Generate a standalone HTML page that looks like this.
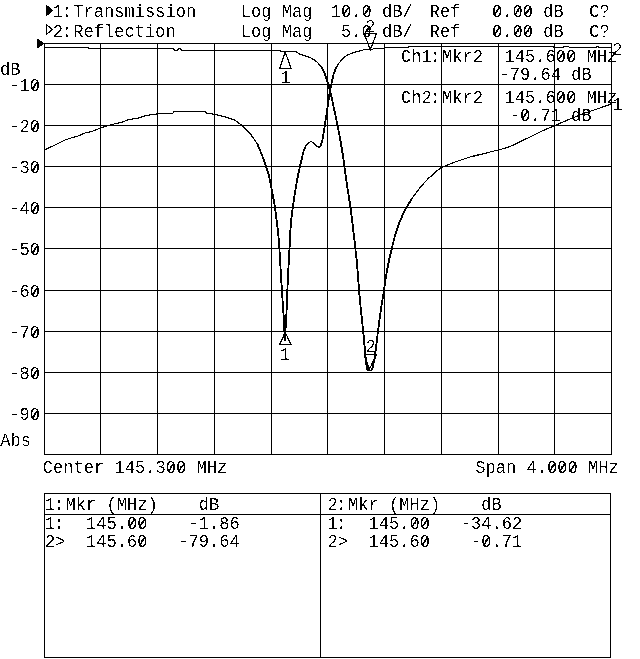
<!DOCTYPE html>
<html lang="en">
<head>
<meta charset="utf-8">
<title>Network analyzer plot</title>
<style>
html,body{margin:0;padding:0;background:#fff;}
svg{display:block;}
text{white-space:pre;}
</style>
</head>
<body>
<svg width="640" height="659" viewBox="0 0 640 659">
<defs>
<filter id="bin" x="0" y="0" width="640" height="659" filterUnits="userSpaceOnUse" color-interpolation-filters="sRGB">
<feColorMatrix type="saturate" values="0"/>
<feComponentTransfer>
<feFuncR type="discrete" tableValues="0 0 0 0 0 0 0 0 0 0 0 1 1 1 1 1 1 1 1 1"/>
<feFuncG type="discrete" tableValues="0 0 0 0 0 0 0 0 0 0 0 1 1 1 1 1 1 1 1 1"/>
<feFuncB type="discrete" tableValues="0 0 0 0 0 0 0 0 0 0 0 1 1 1 1 1 1 1 1 1"/>
</feComponentTransfer>
</filter>
</defs>
<g filter="url(#bin)">
<rect x="0" y="0" width="640" height="659" fill="#fff"/>
<g shape-rendering="crispEdges" fill="#000">
<rect x="44" y="43" width="1" height="412"/>
<rect x="100" y="43" width="1" height="412"/>
<rect x="157" y="43" width="1" height="412"/>
<rect x="214" y="43" width="1" height="412"/>
<rect x="271" y="43" width="1" height="412"/>
<rect x="327" y="43" width="1" height="412"/>
<rect x="384" y="43" width="1" height="412"/>
<rect x="441" y="43" width="1" height="412"/>
<rect x="498" y="43" width="1" height="412"/>
<rect x="554" y="43" width="1" height="412"/>
<rect x="611" y="43" width="1" height="412"/>
<rect x="44" y="43" width="568" height="1"/>
<rect x="44" y="84" width="568" height="1"/>
<rect x="44" y="125" width="568" height="1"/>
<rect x="44" y="166" width="568" height="1"/>
<rect x="44" y="207" width="568" height="1"/>
<rect x="44" y="248" width="568" height="1"/>
<rect x="44" y="290" width="568" height="1"/>
<rect x="44" y="331" width="568" height="1"/>
<rect x="44" y="372" width="568" height="1"/>
<rect x="44" y="413" width="568" height="1"/>
<rect x="44" y="454" width="568" height="1"/>
<rect x="44" y="493" width="567" height="1"/>
<rect x="44" y="514" width="567" height="1"/>
<rect x="44" y="657" width="567" height="1"/>
<rect x="44" y="493" width="1" height="165"/>
<rect x="320" y="493" width="1" height="165"/>
<rect x="610" y="493" width="1" height="165"/>
</g>
<g fill="none" stroke="#000" stroke-width="1.1" stroke-linejoin="round">
<polyline points="44.5,47.5 88.2,47.5 89.2,48.5 173.0,48.5 174.5,50.4 177.0,50.4 178.5,48.6 180.5,48.6 182.0,50.5 280.0,50.5 281.0,51.5 296.0,51.5 297.6,52.9 300.0,54.4 305.0,55.7 310.0,57.5 313.7,59.4 317.5,62.5 321.2,66.9 323.7,71.2 325.6,76.2 326.9,80.0 328.5,85.0 330.0,91.2 331.9,98.7 333.7,107.5 335.6,116.2 337.5,125.0 339.4,135.0 341.2,145.0 343.3,158.0 344.4,166.4 346.7,182.8 349.0,197.9 350.5,207.3 352.5,223.7 354.3,238.9 355.5,250.0 357.0,263.0 359.0,290.1 361.0,311.0 363.2,331.4 364.8,348.7 365.9,360.0 366.8,368.4 367.4,370.4 371.3,370.4 372.8,366.9 374.7,357.8 376.2,346.4 377.8,332.5 380.8,310.0 384.0,290.1 385.5,279.5 387.5,268.0 389.4,258.5 391.4,250.4 393.1,243.0 395.0,235.5 397.0,229.0 399.3,222.8 401.3,218.0 403.5,213.2 406.0,208.3 408.8,203.7 411.8,198.8 415.2,194.1 419.3,188.6 423.7,183.5 427.8,179.0 432.2,175.0 436.8,171.0 441.7,167.2 447.5,165.0 455.0,161.9 462.5,159.4 470.0,156.9 480.0,154.6 490.0,152.0 498.2,150.0 507.5,147.5 517.5,143.0 530.0,137.0 542.5,130.7 554.7,125.5 567.5,120.0 580.0,115.0 592.5,110.5 605.0,106.2 611.5,103.7"/>
<polyline points="44.5,150.0 55.0,145.0 65.0,140.0 70.0,138.2 77.5,136.2 85.0,133.0 92.5,131.2 100.5,128.0 107.5,125.7 115.0,123.7 122.5,122.0 128.7,119.5 137.5,118.2 145.0,115.7 152.5,114.5 160.0,113.6 172.5,113.6 174.0,111.5 205.0,111.5 206.5,113.3 214.4,114.3 223.8,116.6 235.0,120.3 242.5,125.9 250.0,133.4 257.5,144.2 260.5,151.5 263.3,158.5 266.0,166.0 268.7,175.0 270.6,183.7 272.5,193.7 274.4,203.7 275.6,212.5 276.9,222.5 278.1,232.5 279.0,242.0 279.8,255.2 281.1,277.9 282.6,300.7 283.9,320.4 284.5,332.0 284.9,340.5 285.3,332.0 286.2,320.4 286.9,300.7 287.9,277.9 289.1,255.2 290.0,240.0 290.4,230.0 291.5,217.5 292.7,207.5 294.4,196.2 296.2,185.0 298.1,175.0 300.0,166.2 301.5,160.0 303.1,152.5 305.6,146.2 308.1,143.1 310.6,141.5 313.1,142.5 316.2,145.6 318.7,147.5 320.6,145.6 322.2,141.2 323.5,133.7 324.7,126.2 326.0,117.5 327.5,107.5 328.7,98.7 330.2,90.0 331.6,83.0 332.5,79.0 333.7,73.7 336.2,67.5 339.4,62.5 343.1,58.1 347.5,55.0 352.5,52.9 358.7,51.2 363.7,49.8 372.0,49.6 373.7,48.5 384.0,48.4 385.0,47.5 408.0,47.5 409.5,46.5 553.0,46.5 554.5,47.5 563.0,47.5 564.0,46.6 568.5,46.6 569.5,47.5 595.5,47.5 596.5,46.7 598.0,46.7 599.0,47.5 611.5,47.5"/>
</g>
<g fill="none" stroke="#000" stroke-width="1.6" stroke-linejoin="round">
<polyline points="321.2,66.9 323.7,71.2 325.6,76.2 326.9,80.0 328.5,85.0 330.0,91.2 331.9,98.7 333.7,107.5 335.6,116.2 337.5,125.0 339.4,135.0 341.2,145.0 343.3,158.0 344.4,166.4 346.7,182.8 349.0,197.9 350.5,207.3 352.5,223.7 354.3,238.9 355.5,250.0 357.0,263.0 359.0,290.1 361.0,311.0 363.2,331.4 364.8,348.7 365.9,360.0 366.8,368.4 367.4,370.4"/>
<polyline points="371.3,370.4 372.8,366.9 374.7,357.8 376.2,346.4 377.8,332.5 380.8,310.0 384.0,290.1 385.5,279.5 387.5,268.0 389.4,258.5 391.4,250.4 393.1,243.0 395.0,235.5 397.0,229.0 399.3,222.8 401.3,218.0 403.5,213.2 406.0,208.3 408.8,203.7 411.8,198.8"/>
<polyline points="257.5,144.2 260.5,151.5 263.3,158.5 266.0,166.0 268.7,175.0 270.6,183.7 272.5,193.7 274.4,203.7 275.6,212.5 276.9,222.5 278.1,232.5 279.0,242.0 279.8,255.2 281.1,277.9 282.6,300.7 283.9,320.4 284.5,332.0 284.9,340.5 285.3,332.0 286.2,320.4 286.9,300.7 287.9,277.9 289.1,255.2 290.0,240.0 290.4,230.0 291.5,217.5 292.7,207.5 294.4,196.2 296.2,185.0 298.1,175.0 300.0,166.2 301.5,160.0 303.1,152.5 305.6,146.2"/>
<polyline points="320.6,145.6 322.2,141.2 323.5,133.7 324.7,126.2 326.0,117.5 327.5,107.5 328.7,98.7 330.2,90.0 331.6,83.0 332.5,79.0 333.7,73.7 336.2,67.5"/>
</g>
<g fill="none" stroke="#000" stroke-width="1.15" stroke-linejoin="miter">
<polygon points="285.2,51.8 279.6,68.4 291,68.4"/>
<polygon points="285.2,332.3 279.6,344.6 291,344.6"/>
<polygon points="370.3,49.7 364.2,33.6 376.5,33.6"/>
<polygon points="369.3,369.5 364.2,354.5 376.5,354.5"/>
<polygon points="46.5,24.9 52.8,29.5 46.5,34.2"/>
</g>
<polygon points="45.6,4.2 53.6,10.5 45.6,16.8" fill="#000"/>
<polygon points="36.6,38 44.8,43.5 36.6,49" fill="#000"/>
<g transform="scale(1,1.100)" font-family="&quot;Liberation Mono&quot;, &quot;DejaVu Sans Mono&quot;, monospace" font-size="17.08px" fill="#000" stroke="#fff" stroke-width="0.1" paint-order="fill stroke">
<text x="52.80 61.45 73.30 83.55 93.80 104.05 114.30 124.55 134.80 145.05 155.30 165.55 175.80 186.05" y="15.27">1:Transmission</text>
<text x="52.80 61.45 73.30 83.55 93.80 104.05 114.30 124.55 134.80 145.05 155.30 165.55" y="33.36">2:Reflection</text>
<text x="240.80 251.05 261.30" y="15.27">Log</text>
<text x="281.80 292.05 302.30" y="15.27">Mag</text>
<text x="429.80 440.05 450.30" y="15.27">Ref</text>
<text x="491.90 502.15 512.40 522.65" y="15.27">0.00</text>
<text x="543.15 553.40" y="15.27">dB</text>
<text x="589.20 599.45" y="15.27">C?</text>
<text x="240.80 251.05 261.30" y="33.36">Log</text>
<text x="281.80 292.05 302.30" y="33.36">Mag</text>
<text x="429.80 440.05 450.30" y="33.36">Ref</text>
<text x="491.90 502.15 512.40 522.65" y="33.36">0.00</text>
<text x="543.15 553.40" y="33.36">dB</text>
<text x="589.20 599.45" y="33.36">C?</text>
<text x="330.80 341.05 351.30 361.55" y="15.27">10.0</text>
<text x="382.05 392.30 402.55" y="15.27">dB/</text>
<text x="341.05 351.30 361.55" y="33.36">5.0</text>
<text x="382.05 392.30 402.55" y="33.36">dB/</text>
<text x="401.00 411.25 421.50 430.15 442.00 452.25 462.50 472.75" y="56.18">Ch1:Mkr2</text>
<text x="401.00 411.25 421.50 430.15 442.00 452.25 462.50 472.75" y="93.27">Ch2:Mkr2</text>
<text x="504.60 514.85 525.10 535.35 545.60 555.85 566.10" y="56.18">145.600</text>
<text x="586.60 596.85 607.10" y="56.18">MHz</text>
<text x="504.60 514.85 525.10 535.35 545.60 555.85 566.10" y="93.27">145.600</text>
<text x="586.60 596.85 607.10" y="93.27">MHz</text>
<text x="499.50 509.75 520.00 530.25 540.50 550.75" y="72.73">-79.64</text>
<text x="571.25 581.50" y="72.73">dB</text>
<text x="509.80 520.05 530.30 540.55 550.80" y="109.64">-0.71</text>
<text x="571.30 581.55" y="109.64">dB</text>
<text x="612.30" y="50.45">2</text>
<text x="612.60" y="100.27">1</text>
<text x="280.30" y="75.64">1</text>
<text x="280.00" y="326.91">1</text>
<text x="365.30" y="29.36">2</text>
<text x="365.50" y="320.00">2</text>
<text x="0.00 10.25" y="68.55">dB</text>
<text x="9.30 19.55 29.80" y="83.09">-10</text>
<text x="9.30 19.55 29.80" y="120.36">-20</text>
<text x="9.30 19.55 29.80" y="157.64">-30</text>
<text x="9.30 19.55 29.80" y="194.91">-40</text>
<text x="9.30 19.55 29.80" y="232.18">-50</text>
<text x="9.30 19.55 29.80" y="270.36">-60</text>
<text x="9.30 19.55 29.80" y="307.64">-70</text>
<text x="9.30 19.55 29.80" y="344.91">-80</text>
<text x="9.30 19.55 29.80" y="382.18">-90</text>
<text x="0.30 10.55 20.80" y="405.09">Abs</text>
<text x="42.80 53.05 63.30 73.55 83.80 94.05" y="430.45">Center</text>
<text x="114.55 124.80 135.05 145.30 155.55 165.80 176.05" y="430.45">145.300</text>
<text x="196.55 206.80 217.05" y="430.45">MHz</text>
<text x="475.20 485.45 495.70 505.95" y="430.36">Span</text>
<text x="526.45 536.70 546.95 557.20 567.45" y="430.36">4.000</text>
<text x="587.95 598.20 608.45" y="430.36">MHz</text>
<text x="45.00 53.65 65.50 75.75 86.00" y="463.73">1:Mkr</text>
<text x="106.50 116.75 127.00 137.25 147.50" y="463.73">(MHz)</text>
<text x="198.75 209.00" y="463.73">dB</text>
<text x="45.00 53.65" y="480.55">1:</text>
<text x="86.00 96.25 106.50 116.75 127.00 137.25" y="480.55">145.00</text>
<text x="188.50 198.75 209.00 219.25 229.50" y="480.55">-1.86</text>
<text x="45.00 55.25" y="497.18">2&gt;</text>
<text x="86.00 96.25 106.50 116.75 127.00 137.25" y="497.18">145.60</text>
<text x="178.25 188.50 198.75 209.00 219.25 229.50" y="497.18">-79.64</text>
<text x="327.60 336.25 348.10 358.35 368.60" y="463.73">2:Mkr</text>
<text x="389.10 399.35 409.60 419.85 430.10" y="463.73">(MHz)</text>
<text x="481.35 491.60" y="463.73">dB</text>
<text x="327.60 336.25" y="480.55">1:</text>
<text x="368.60 378.85 389.10 399.35 409.60 419.85" y="480.55">145.00</text>
<text x="460.85 471.10 481.35 491.60 501.85 512.10" y="480.55">-34.62</text>
<text x="327.60 337.85" y="497.18">2&gt;</text>
<text x="368.60 378.85 389.10 399.35 409.60 419.85" y="497.18">145.60</text>
<text x="471.10 481.35 491.60 501.85 512.10" y="497.18">-0.71</text>
</g>
<g stroke="#000" stroke-width="1.35" fill="none">
<line x1="494.2" y1="15.2" x2="499.8" y2="6.8"/>
<line x1="514.7" y1="15.2" x2="520.3" y2="6.8"/>
<line x1="524.9" y1="15.2" x2="530.5" y2="6.8"/>
<line x1="494.2" y1="35.1" x2="499.8" y2="26.7"/>
<line x1="514.7" y1="35.1" x2="520.3" y2="26.7"/>
<line x1="524.9" y1="35.1" x2="530.5" y2="26.7"/>
<line x1="343.4" y1="15.2" x2="348.9" y2="6.8"/>
<line x1="363.9" y1="15.2" x2="369.4" y2="6.8"/>
<line x1="363.9" y1="35.1" x2="369.4" y2="26.7"/>
<line x1="558.1" y1="60.2" x2="563.8" y2="51.8"/>
<line x1="568.4" y1="60.2" x2="574.0" y2="51.8"/>
<line x1="558.1" y1="101.0" x2="563.8" y2="92.6"/>
<line x1="568.4" y1="101.0" x2="574.0" y2="92.6"/>
<line x1="522.3" y1="119.0" x2="527.9" y2="110.6"/>
<line x1="32.1" y1="89.8" x2="37.7" y2="81.4"/>
<line x1="32.1" y1="130.8" x2="37.7" y2="122.4"/>
<line x1="32.1" y1="171.8" x2="37.7" y2="163.4"/>
<line x1="32.1" y1="212.8" x2="37.7" y2="204.4"/>
<line x1="32.1" y1="253.8" x2="37.7" y2="245.4"/>
<line x1="32.1" y1="295.8" x2="37.7" y2="287.4"/>
<line x1="32.1" y1="336.8" x2="37.7" y2="328.4"/>
<line x1="32.1" y1="377.8" x2="37.7" y2="369.4"/>
<line x1="32.1" y1="418.8" x2="37.7" y2="410.4"/>
<line x1="168.1" y1="471.9" x2="173.7" y2="463.5"/>
<line x1="178.4" y1="471.9" x2="184.0" y2="463.5"/>
<line x1="549.2" y1="471.8" x2="554.9" y2="463.4"/>
<line x1="559.5" y1="471.8" x2="565.1" y2="463.4"/>
<line x1="569.8" y1="471.8" x2="575.4" y2="463.4"/>
<line x1="129.3" y1="527.0" x2="134.9" y2="518.6"/>
<line x1="139.6" y1="527.0" x2="145.2" y2="518.6"/>
<line x1="139.6" y1="545.3" x2="145.2" y2="536.9"/>
<line x1="411.9" y1="527.0" x2="417.5" y2="518.6"/>
<line x1="422.2" y1="527.0" x2="427.8" y2="518.6"/>
<line x1="422.2" y1="545.3" x2="427.8" y2="536.9"/>
<line x1="483.7" y1="545.3" x2="489.2" y2="536.9"/>
</g>
</g>
</svg>
</body>
</html>
